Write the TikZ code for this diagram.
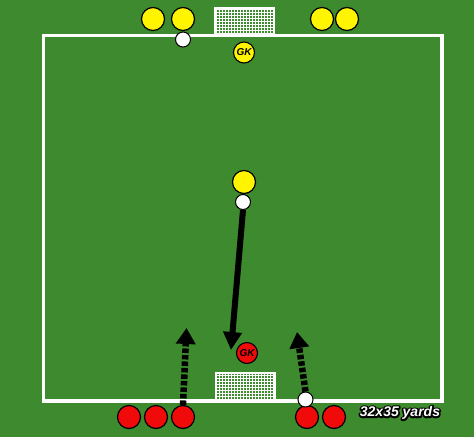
\documentclass[tikz,border=0pt]{standalone}
\usepackage{fontspec}
\setmainfont{Liberation Sans}
\usetikzlibrary{arrows.meta}
\definecolor{pitch}{RGB}{62,138,46}
\definecolor{yel}{RGB}{255,245,0}
\definecolor{rd}{RGB}{240,10,10}
\tikzset{
  player/.style={circle,draw=black,line width=1.2pt,minimum size=23pt,inner sep=0pt},
  ypl/.style={player,fill=yel},
  rpl/.style={player,fill=rd},
  gk/.style={circle,draw=black,line width=1.1pt,minimum size=21pt,inner sep=0pt,font=\bfseries\itshape\fontsize{10}{10}\selectfont},
  ball/.style={circle,draw=black,line width=1pt,fill=white,minimum size=15pt,inner sep=0pt},
  runarrow/.style={line width=6pt,-{Triangle[length=18pt,width=18pt]}},
  dribble/.style={line width=6.5pt,dash pattern=on 4.5pt off 2pt,-{Triangle[length=16pt,width=19pt]}},
  labelfont/.style={font=\bfseries\itshape\fontsize{14}{14}\selectfont},
}
\newcommand{\strokedtext}[1]{\special{pdf:literal direct 1 Tr 3.2 w 1 j 0 0 0 RG}#1\special{pdf:literal direct 0 Tr}}
\begin{document}
\begin{tikzpicture}[x=1pt,y=-1pt]
\fill[pitch] (0,0) rectangle (474,437);
\useasboundingbox (0,0) rectangle (474,437);
% field
\draw[white,line width=3.5pt] (43.5,35.5) rectangle (442,401);
% top goal
\begin{scope}
  \clip (215,8) rectangle (274,35);
  \draw[white,line width=0.45pt,step=3pt] (215,8) grid (274,35);
\end{scope}
\draw[white,line width=1.6pt] (215,35) -- (215,8) -- (274,8) -- (274,35);
% bottom goal
\begin{scope}
  \clip (216,373) rectangle (275,401);
  \draw[white,line width=0.45pt,step=3pt] (216,373) grid (275,401);
\end{scope}
\draw[white,line width=1.6pt] (216,401) -- (216,373) -- (275,373) -- (275,401);
% top players
\node[ypl] (y1) at (153,19) {};
\node[ypl] (y2) at (183,19) {};
\node[ypl] (y3) at (322,19) {};
\node[ypl] (y4) at (347,19) {};
\node[ball] (b1) at (183,39.5) {};
\node[gk,fill=yel] (gky) at (244,52.5) {GK};
% middle
\node[ypl] (ym) at (244,182) {};
\node[ball] (bm) at (243,202) {};
% red GK
\node[gk,fill=rd] (gkr) at (247,353) {GK};
% bottom players
\node[rpl] (r1) at (129,417) {};
\node[rpl] (r2) at (156,417) {};
\node[rpl] (r3) at (183,417) {};
\node[rpl] (r4) at (307,417) {};
\node[rpl] (r5) at (334,417) {};
\node[ball] (b2) at (305.5,399.5) {};
% arrows
\coordinate (t1) at (231,350);
\coordinate (t2) at (186.5,328);
\coordinate (t3) at (297,332);
\draw[runarrow] (bm.south) -- (t1);
\draw[dribble] (r3.north) -- (t2);
\draw[dribble] (b2.north) -- (t3);
% label: black outline, then white fill
\node[labelfont,text=black] (lblo) at (400,413) {\strokedtext{32x35 yards}};
\node[labelfont,text=white] (lbl) at (lblo.center) {32x35 yards};
\end{tikzpicture}
\end{document}
